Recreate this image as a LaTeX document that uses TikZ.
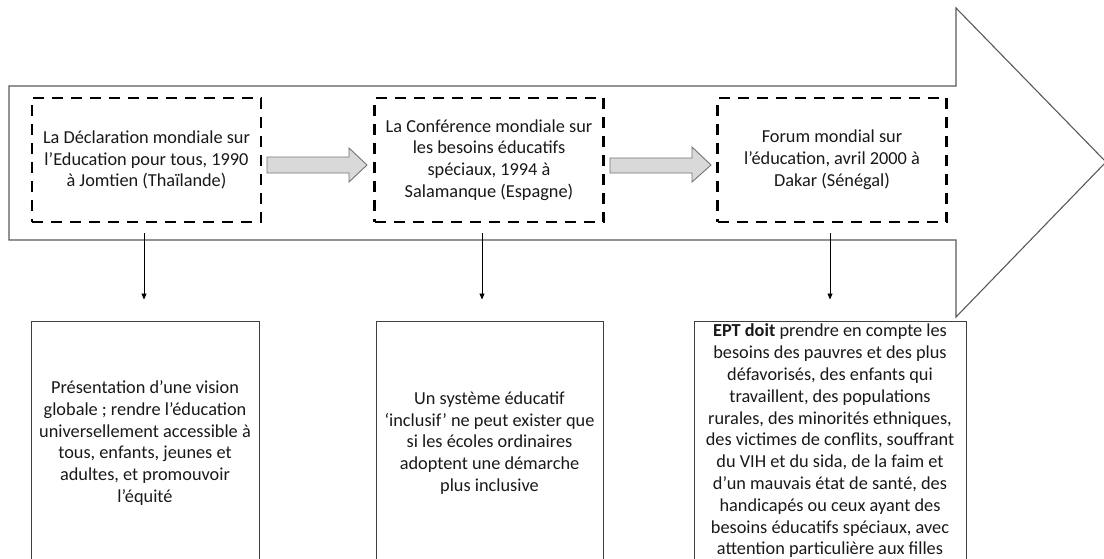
\documentclass[tikz,border=0pt]{standalone}
\usepackage{fontspec}
\setmainfont{Carlito}
\usetikzlibrary{arrows.meta}
\begin{document}
\begin{tikzpicture}[x=1pt,y=-1pt,
  txt/.style={font=\fontsize{18.3}{21.8}\selectfont, align=center, text=black!90},
  event/.style={txt, draw=black, line width=2.8pt, dash pattern=on 11pt off 8pt,
    minimum width=229pt, minimum height=124pt, inner sep=0pt},
  result/.style={txt, draw=black!75, line width=1pt, minimum height=244pt, inner sep=0pt},
  bigarrow/.style={draw=black!65, line width=1.1pt, fill=white},
  steparrow/.style={draw=black!55, line width=0.9pt, fill=black!15},
  link/.style={draw=black, line width=0.8pt, -{Triangle[length=6pt,width=5pt]}}
]
\useasboundingbox (0,0) rectangle (1104,558);
\clip (0,0) rectangle (1104,558);

% timeline arrow
\draw[bigarrow] (9,86) -- (956,86) -- (956,8) -- (1106,162) -- (956,317)
  -- (956,240) -- (9,240) -- cycle;

% events on the timeline
\node[event] (e1) at (146.5,160) {La Déclaration mondiale sur\\l’Education pour tous, 1990\\à Jomtien (Thaïlande)};
\node[event] (e2) at (489,160) {La Conférence mondiale sur\\les besoins éducatifs\\spéciaux, 1994 à\\Salamanque (Espagne)};
\node[event] (e3) at (832,160) {Forum mondial sur\\l’éducation, avril 2000 à\\Dakar (Sénégal)};

% grey step arrows between events
\draw[steparrow] (267,157) -- (349,157) -- (349,148) -- (367,165) -- (349,182)
  -- (349,173) -- (267,173) -- cycle;
\draw[steparrow] (610,158) -- (692,158) -- (692,147) -- (711,165) -- (692,182)
  -- (692,173) -- (610,173) -- cycle;

% outcomes
\node[result, minimum width=228pt] (r1) at (145,443) {Présentation d’une vision\\globale ; rendre l’éducation\\universellement accessible à\\tous, enfants, jeunes et\\adultes, et promouvoir\\l’équité};
\node[result, minimum width=227pt] (r2) at (489.5,443) {Un système éducatif\\‘inclusif’ ne peut exister que\\si les écoles ordinaires\\adoptent une démarche\\plus inclusive};
\node[result, minimum width=272pt, minimum height=240pt] (r3) at (830,441) {\textbf{EPT doit} prendre en compte les\\besoins des pauvres et des plus\\défavorisés, des enfants qui\\travaillent, des populations\\rurales, des minorités ethniques,\\des victimes de conflits, souffrant\\du VIH et du sida, de la faim et\\d’un mauvais état de santé, des\\handicapés ou ceux ayant des\\besoins éducatifs spéciaux, avec\\attention particulière aux filles};

% links from events to outcomes
\coordinate (s1) at (144,233);
\coordinate (s2) at (482,233);
\coordinate (s3) at (830,233);
\draw[link, shorten >=21pt] (s1) -- (s1 |- r1.north);
\draw[link, shorten >=21pt] (s2) -- (s2 |- r2.north);
\draw[link, shorten >=21pt] (s3) -- (s3 |- r3.north);
\end{tikzpicture}
\end{document}
